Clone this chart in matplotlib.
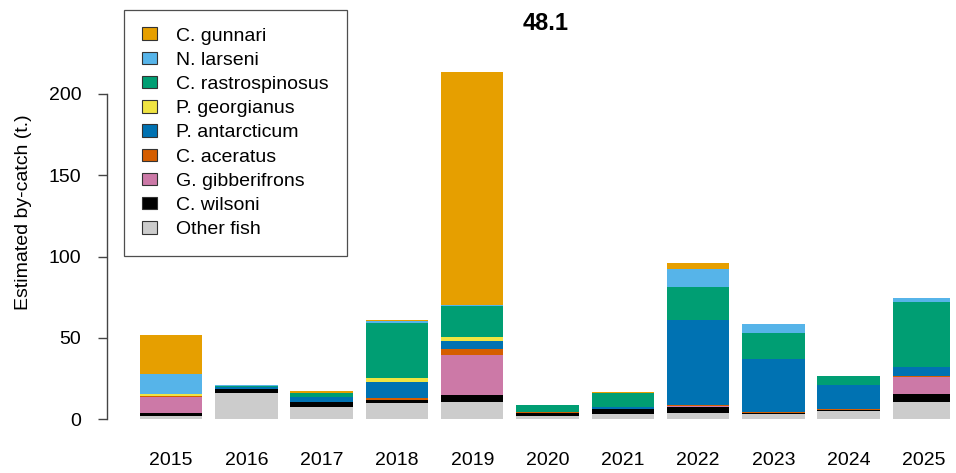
import matplotlib.pyplot as plt
import numpy as np
from matplotlib.patches import Patch

plt.rcParams['font.family'] = ['Liberation Sans', 'DejaVu Sans']

years = ['2015', '2016', '2017', '2018', '2019', '2020', '2021', '2022', '2023', '2024', '2025']

# stacked from the bottom up
species = ['Other fish', 'C. wilsoni', 'G. gibberifrons', 'C. aceratus', 'P. antarcticum',
           'P. georgianus', 'C. rastrospinosus', 'N. larseni', 'C. gunnari']
colours = ['#CCCCCC', '#000000', '#CC79A7', '#D55E00', '#0072B2',
           '#F0E442', '#009E73', '#56B4E9', '#E69F00']

other_fish   = [1.8, 16.0, 7.6, 10.0, 10.7, 2.0, 2.9, 3.5, 3.0, 4.7, 10.3]
c_wilsoni    = [1.6, 2.3, 3.1, 2.0, 4.3, 1.4, 3.0, 3.7, 0.6, 0.6, 4.9]
g_gibberif   = [10.0, 0.0, 0.0, 0.0, 24.4, 0.0, 0.4, 0.7, 0.0, 0.0, 10.8]
c_aceratus   = [1.0, 0.0, 0.0, 1.0, 3.5, 1.0, 0.0, 1.0, 0.8, 0.6, 0.6]
p_antarct    = [0.0, 1.2, 3.1, 9.7, 5.4, 0.0, 1.2, 52.3, 32.4, 14.8, 5.2]
p_georg      = [0.8, 0.0, 0.0, 2.7, 2.0, 0.0, 0.0, 0.0, 0.0, 0.0, 0.0]
c_rastro     = [0.0, 1.0, 2.0, 33.8, 19.3, 4.1, 8.6, 20.3, 16.0, 5.5, 40.4]
n_larseni    = [12.7, 0.4, 0.0, 1.0, 0.5, 0.0, 0.0, 11.1, 5.5, 0.0, 2.5]
c_gunnari    = [23.6, 0.0, 1.4, 0.8, 143.6, 0.0, 0.3, 3.5, 0.0, 0.3, 0.0]

series = [other_fish, c_wilsoni, g_gibberif, c_aceratus, p_antarct,
          p_georg, c_rastro, n_larseni, c_gunnari]

fig = plt.figure(figsize=(9.56, 4.73), dpi=100)
W, H = 956, 473
ax_left, ax_right, ax_top, ax_bot = 107, 950, 5, 419
ax = fig.add_axes([ax_left / W, 1 - ax_bot / H, (ax_right - ax_left) / W, (ax_bot - ax_top) / H])

x = np.arange(len(years))
bottom = np.zeros(len(years))
for vals, col in zip(series, colours):
    ax.bar(x, vals, bottom=bottom, width=0.83, color=col, edgecolor='none')
    bottom += np.array(vals)

step = 75.3
ax.set_xlim((ax_left - 171) / step, (ax_right - 171) / step)
ax.set_ylim(0, (ax_bot - ax_top) / 1.625)

for s in ['top', 'right', 'bottom']:
    ax.spines[s].set_visible(False)
ax.spines['left'].set_bounds(0, 200)
ax.spines['left'].set_color('#444444')
ax.spines['left'].set_linewidth(1.0)
ax.set_yticks([0, 50, 100, 150, 200])
ax.tick_params(axis='y', length=6.5, width=1.0, color='#444444', labelsize=14, pad=12)
ax.set_xticks(x)
ax.set_xticklabels(years)
ax.tick_params(axis='x', length=0, labelsize=14, pad=24)
ax.set_ylabel('Estimated by-catch (t.)', fontsize=14, labelpad=12)

fig.text(546 / W, 1 - 24 / H, '48.1', ha='center', va='center', fontsize=17, fontweight='bold')

handles = [Patch(facecolor=c, edgecolor='#333333', linewidth=0.8, label=s)
           for s, c in zip(species[::-1], colours[::-1])]
leg = fig.legend(handles=handles, loc='upper left', bbox_to_anchor=(124 / W, 1 - 10 / H),
                 frameon=True, fancybox=False, edgecolor='#222222', fontsize=14,
                 handlelength=0.8, handleheight=0.6, handletextpad=1.0, labelspacing=0.37,
                 borderpad=0.9, borderaxespad=0)
leg.get_frame().set_linewidth(0.9)

fig.savefig('out.png', dpi=100)
